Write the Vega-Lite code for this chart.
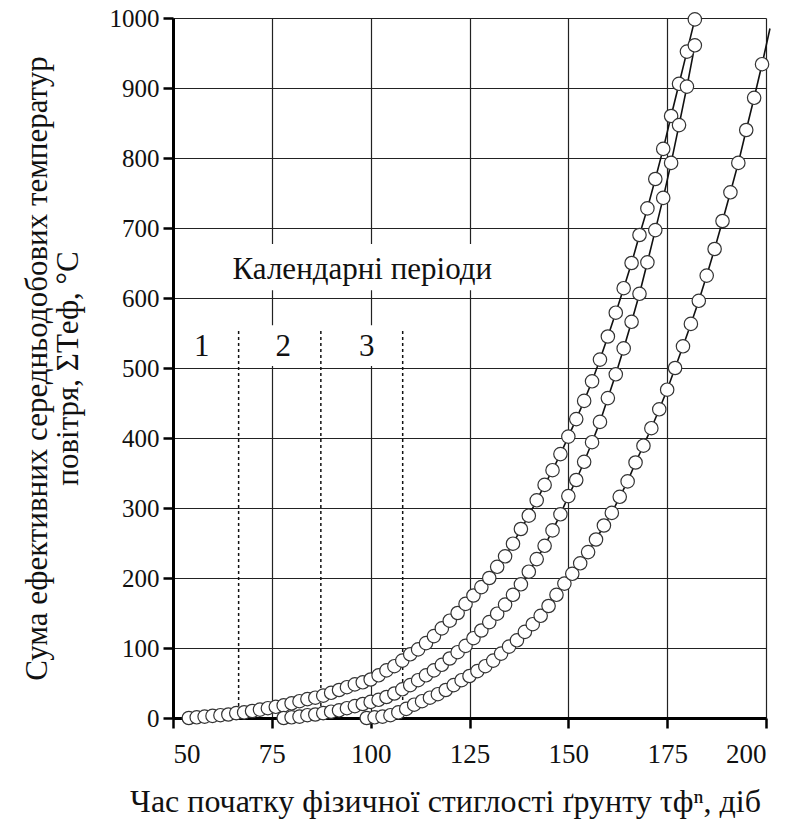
{
  "$schema": "https://vega.github.io/schema/vega-lite/v6.json",
  "width": 593,
  "height": 700,
  "autosize": {"type": "none"},
  "padding": {"left": 173, "top": 18, "right": 25, "bottom": 108},
  "background": "white",
  "config": {
    "view": {"stroke": null},
    "font": "Liberation Serif",
    "axis": {
      "labelFont": "Liberation Serif",
      "titleFont": "Liberation Serif",
      "labelColor": "#111",
      "titleColor": "#111",
      "titleFontWeight": "normal",
      "domainColor": "#000",
      "domainWidth": 3,
      "tickColor": "#000",
      "tickWidth": 2.5,
      "tickSize": 10,
      "gridColor": "#222",
      "gridWidth": 1.2,
      "gridOpacity": 1
    }
  },
  "datasets": {
    "curves": [
      {"s":"A","x":54,"y":0},{"s":"A","x":56,"y":1},{"s":"A","x":58,"y":2},{"s":"A","x":60,"y":3},{"s":"A","x":62,"y":4},{"s":"A","x":64,"y":5},{"s":"A","x":66,"y":7},{"s":"A","x":68,"y":8},{"s":"A","x":70,"y":10},{"s":"A","x":72,"y":12},{"s":"A","x":74,"y":14},{"s":"A","x":76,"y":16},{"s":"A","x":78,"y":18},{"s":"A","x":80,"y":21},{"s":"A","x":82,"y":24},{"s":"A","x":84,"y":27},{"s":"A","x":86,"y":29},{"s":"A","x":88,"y":32},{"s":"A","x":90,"y":36},{"s":"A","x":92,"y":40},{"s":"A","x":94,"y":44},{"s":"A","x":96,"y":48},{"s":"A","x":98,"y":51},{"s":"A","x":100,"y":55},{"s":"A","x":102,"y":61},{"s":"A","x":104,"y":68},{"s":"A","x":106,"y":74},{"s":"A","x":108,"y":82},{"s":"A","x":110,"y":91},{"s":"A","x":112,"y":98},{"s":"A","x":114,"y":107},{"s":"A","x":116,"y":117},{"s":"A","x":118,"y":128},{"s":"A","x":120,"y":139},{"s":"A","x":122,"y":150},{"s":"A","x":124,"y":163},{"s":"A","x":126,"y":175},{"s":"A","x":128,"y":187},{"s":"A","x":130,"y":200},{"s":"A","x":132,"y":216},{"s":"A","x":134,"y":231},{"s":"A","x":136,"y":249},{"s":"A","x":138,"y":270},{"s":"A","x":140,"y":289},{"s":"A","x":142,"y":311},{"s":"A","x":144,"y":333},{"s":"A","x":146,"y":354},{"s":"A","x":148,"y":377},{"s":"A","x":150,"y":402},{"s":"A","x":152,"y":427},{"s":"A","x":154,"y":453},{"s":"A","x":156,"y":481},{"s":"A","x":158,"y":512},{"s":"A","x":160,"y":545},{"s":"A","x":162,"y":579},{"s":"A","x":164,"y":614},{"s":"A","x":166,"y":650},{"s":"A","x":168,"y":690},{"s":"A","x":170,"y":728},{"s":"A","x":172,"y":770},{"s":"A","x":174,"y":813},{"s":"A","x":176,"y":860},{"s":"A","x":178,"y":906},{"s":"A","x":180,"y":952},{"s":"A","x":182,"y":998},
      {"s":"B","x":78,"y":0},{"s":"B","x":80,"y":1},{"s":"B","x":82,"y":2},{"s":"B","x":84,"y":4},{"s":"B","x":86,"y":5},{"s":"B","x":88,"y":7},{"s":"B","x":90,"y":9},{"s":"B","x":92,"y":11},{"s":"B","x":94,"y":14},{"s":"B","x":96,"y":17},{"s":"B","x":98,"y":20},{"s":"B","x":100,"y":23},{"s":"B","x":102,"y":26},{"s":"B","x":104,"y":30},{"s":"B","x":106,"y":35},{"s":"B","x":108,"y":41},{"s":"B","x":110,"y":47},{"s":"B","x":112,"y":54},{"s":"B","x":114,"y":61},{"s":"B","x":116,"y":68},{"s":"B","x":118,"y":76},{"s":"B","x":120,"y":85},{"s":"B","x":122,"y":94},{"s":"B","x":124,"y":103},{"s":"B","x":126,"y":114},{"s":"B","x":128,"y":125},{"s":"B","x":130,"y":137},{"s":"B","x":132,"y":149},{"s":"B","x":134,"y":162},{"s":"B","x":136,"y":176},{"s":"B","x":138,"y":191},{"s":"B","x":140,"y":209},{"s":"B","x":142,"y":227},{"s":"B","x":144,"y":246},{"s":"B","x":146,"y":268},{"s":"B","x":148,"y":291},{"s":"B","x":150,"y":317},{"s":"B","x":152,"y":340},{"s":"B","x":154,"y":366},{"s":"B","x":156,"y":394},{"s":"B","x":158,"y":423},{"s":"B","x":160,"y":457},{"s":"B","x":162,"y":491},{"s":"B","x":164,"y":528},{"s":"B","x":166,"y":566},{"s":"B","x":168,"y":606},{"s":"B","x":170,"y":651},{"s":"B","x":172,"y":697},{"s":"B","x":174,"y":743},{"s":"B","x":176,"y":793},{"s":"B","x":178,"y":847},{"s":"B","x":180,"y":902},{"s":"B","x":182,"y":961},
      {"s":"C","x":99,"y":0},{"s":"C","x":101,"y":1},{"s":"C","x":103,"y":2},{"s":"C","x":105,"y":4},{"s":"C","x":107,"y":8},{"s":"C","x":109,"y":13},{"s":"C","x":111,"y":19},{"s":"C","x":113,"y":24},{"s":"C","x":115,"y":29},{"s":"C","x":117,"y":34},{"s":"C","x":119,"y":40},{"s":"C","x":121,"y":47},{"s":"C","x":123,"y":54},{"s":"C","x":125,"y":60},{"s":"C","x":127,"y":67},{"s":"C","x":129,"y":74},{"s":"C","x":131,"y":82},{"s":"C","x":133,"y":92},{"s":"C","x":135,"y":102},{"s":"C","x":137,"y":111},{"s":"C","x":139,"y":123},{"s":"C","x":141,"y":134},{"s":"C","x":143,"y":146},{"s":"C","x":145,"y":160},{"s":"C","x":147,"y":176},{"s":"C","x":149,"y":192},{"s":"C","x":151,"y":206},{"s":"C","x":153,"y":221},{"s":"C","x":155,"y":237},{"s":"C","x":157,"y":255},{"s":"C","x":159,"y":275},{"s":"C","x":161,"y":293},{"s":"C","x":163,"y":316},{"s":"C","x":165,"y":338},{"s":"C","x":167,"y":365},{"s":"C","x":169,"y":389},{"s":"C","x":171,"y":414},{"s":"C","x":173,"y":441},{"s":"C","x":175,"y":469},{"s":"C","x":177,"y":500},{"s":"C","x":179,"y":531},{"s":"C","x":181,"y":563},{"s":"C","x":183,"y":596},{"s":"C","x":185,"y":632},{"s":"C","x":187,"y":670},{"s":"C","x":189,"y":710},{"s":"C","x":191,"y":751},{"s":"C","x":193,"y":793},{"s":"C","x":195,"y":840},{"s":"C","x":197,"y":886},{"s":"C","x":199,"y":934},{"s":"C","x":201,"y":985}
    ],
    "boxes": [
      {"x":60,"x2":135,"y":611,"y2":677},
      {"x":53,"x2":112,"y":503,"y2":561}
    ],
    "dashes": [
      {"x":66.6,"y":0,"y2":557},
      {"x":87.4,"y":0,"y2":557},
      {"x":108.1,"y":0,"y2":557}
    ],
    "labels": [
      {"t":"Календарні періоди","x":97.9,"y":640},
      {"t":"1","x":57.3,"y":530},
      {"t":"2","x":77.9,"y":530},
      {"t":"3","x":99,"y":530}
    ]
  },
  "layer": [
    {
      "data": {"name": "boxes"},
      "mark": {"type": "rect", "fill": "white", "stroke": null},
      "encoding": {
        "x": {"field": "x", "type": "quantitative", "scale": {"domain": [50, 200], "nice": false, "zero": false},
          "axis": {
            "values": [50, 75, 100, 125, 150, 175, 200],
            "format": "d",
            "title": "Час початку фізичної стиглості ґрунту τфⁿ, діб",
            "labelFontSize": 27,
            "labelPadding": 13,
            "titleFontSize": 32,
            "titleX": 272,
            "titleY": 83,
            "titleBaseline": "middle",
            "titleAnchor": "middle",
            "grid": true
          }},
        "x2": {"field": "x2"},
        "y": {"field": "y", "type": "quantitative", "scale": {"domain": [0, 1000], "nice": false},
          "axis": {
            "values": [0, 100, 200, 300, 400, 500, 600, 700, 800, 900, 1000],
            "format": "d",
            "title": ["Сума ефективних середньодобових температур", "повітря, ΣTеф, °C"],
            "labelFontSize": 25,
            "labelPadding": 4,
            "titleFontSize": 31,
            "titleLineHeight": 31,
            "titleAngle": -90,
            "titleX": -136,
            "titleY": 350,
            "titleBaseline": "middle",
            "titleAlign": "center",
            "grid": true
          }},
        "y2": {"field": "y2"}
      }
    },
    {
      "data": {"name": "dashes"},
      "mark": {"type": "rule", "color": "#111", "strokeWidth": 1.5, "strokeDash": [3, 3]},
      "encoding": {
        "x": {"field": "x", "type": "quantitative"},
        "y": {"field": "y", "type": "quantitative"},
        "y2": {"field": "y2"}
      }
    },
    {
      "data": {"name": "labels"},
      "mark": {"type": "text", "font": "Liberation Serif", "fontSize": 31, "color": "#111", "baseline": "middle", "align": "center"},
      "encoding": {
        "x": {"field": "x", "type": "quantitative"},
        "y": {"field": "y", "type": "quantitative"},
        "text": {"field": "t"}
      }
    },
    {
      "data": {"name": "curves"},
      "mark": {"type": "line", "color": "#111", "strokeWidth": 1.6},
      "encoding": {
        "x": {"field": "x", "type": "quantitative"},
        "y": {"field": "y", "type": "quantitative"},
        "detail": {"field": "s"}
      }
    },
    {
      "data": {"name": "curves"},
      "transform": [{"filter": "datum.x <= 200"}],
      "mark": {"type": "point", "shape": "circle", "filled": true, "fill": "white", "stroke": "#333", "strokeWidth": 1.2, "size": 180, "opacity": 1},
      "encoding": {
        "x": {"field": "x", "type": "quantitative"},
        "y": {"field": "y", "type": "quantitative"},
        "detail": {"field": "s"}
      }
    }
  ]
}
